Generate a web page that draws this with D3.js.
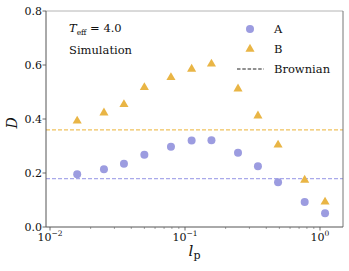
<!DOCTYPE html>
<html lang="en">
<head>
<meta charset="UTF-8">
<script src="https://d3js.org/d3.v7.min.js"></script>
<style>
  body { margin: 0; background: #fff; }
</style>
</head>
<body>
<svg width="349" height="271" font-family="'DejaVu Serif', 'Liberation Serif', serif"></svg>
<script>
// persistence length values (log axis)
const lp = [0.0159, 0.0251, 0.0353, 0.050, 0.0787, 0.112, 0.157, 0.247, 0.347, 0.489, 0.77, 1.09];
const seriesA = [0.195, 0.214, 0.234, 0.268, 0.297, 0.320, 0.321, 0.275, 0.225, 0.166, 0.093, 0.051];
const seriesB = [0.393, 0.423, 0.454, 0.517, 0.554, 0.585, 0.604, 0.512, 0.412, 0.304, 0.174, 0.093];
const brownian = {A: 0.179, B: 0.360};
const yTicks = [0.0, 0.2, 0.4, 0.6, 0.8];
const xTicks = [0.01, 0.1, 1];
const xTickExp = ["\u22122", "\u22121", "0"];

const colA = "#9c9ce0", colB = "#e9b545";
const colAline = "#a9a9ea", colBline = "#f0c25e";

const svg = d3.select("svg");
const mLeft = 46, mRight = 343, mTop = 11, mBottom = 227;

const x = d3.scaleLog().domain([Math.pow(10, -2 - 4 / 135), Math.pow(10, 23 / 135)]).range([mLeft, mRight]);
const y = d3.scaleLinear().domain([0, 0.8]).range([mBottom, mTop]);

// brownian reference lines
svg.append("line")
  .attr("x1", mLeft).attr("x2", mRight)
  .attr("y1", y(brownian.B)).attr("y2", y(brownian.B))
  .attr("stroke", colBline).attr("stroke-width", 1.2).attr("stroke-dasharray", "4,2");
svg.append("line")
  .attr("x1", mLeft).attr("x2", mRight)
  .attr("y1", y(brownian.A)).attr("y2", y(brownian.A))
  .attr("stroke", colAline).attr("stroke-width", 1.2).attr("stroke-dasharray", "4,2");

// minor x ticks
const minor = [];
for (let e = -2; e <= 0; e++) for (let k = 2; k <= 9; k++) {
  const v = k * Math.pow(10, e);
  if (v < x.domain()[1]) minor.push(v);
}
svg.selectAll(".minor").data(minor).enter().append("line")
  .attr("x1", d => x(d)).attr("x2", d => x(d))
  .attr("y1", mBottom).attr("y2", mBottom + 2)
  .attr("stroke", "#666").attr("stroke-width", 0.6);

// major x ticks
svg.selectAll(".xt").data(xTicks).enter().append("line")
  .attr("x1", d => x(d)).attr("x2", d => x(d))
  .attr("y1", mBottom).attr("y2", mBottom + 3.5)
  .attr("stroke", "#444").attr("stroke-width", 0.8);
const xl = svg.selectAll(".xl").data(xTicks).enter().append("text")
  .attr("x", d => x(d)).attr("y", mBottom + 14)
  .attr("text-anchor", "middle").style("font-size", "11px").attr("fill", "#111");
xl.append("tspan").text("10");
xl.append("tspan").attr("dy", -5).style("font-size", "7.5px").text((d, i) => xTickExp[i]);

// y ticks
svg.selectAll(".yt").data(yTicks).enter().append("line")
  .attr("x1", mLeft - 3.5).attr("x2", mLeft)
  .attr("y1", d => y(d)).attr("y2", d => y(d))
  .attr("stroke", "#444").attr("stroke-width", 0.8);
svg.selectAll(".yl").data(yTicks).enter().append("text")
  .attr("x", mLeft - 4).attr("y", d => y(d) + 4)
  .attr("text-anchor", "end").style("font-size", "11px").attr("fill", "#111")
  .text(d => d.toFixed(1));

// spines
svg.append("line").attr("x1", mLeft).attr("x2", mRight).attr("y1", mTop).attr("y2", mTop)
  .attr("stroke", "#b4b4b4").attr("stroke-width", 1);
svg.append("line").attr("x1", mRight).attr("x2", mRight).attr("y1", mTop).attr("y2", mBottom)
  .attr("stroke", "#777").attr("stroke-width", 1);
svg.append("line").attr("x1", mLeft).attr("x2", mLeft).attr("y1", mTop).attr("y2", mBottom)
  .attr("stroke", "#555").attr("stroke-width", 1);
svg.append("line").attr("x1", mLeft).attr("x2", mRight).attr("y1", mBottom).attr("y2", mBottom)
  .attr("stroke", "#555").attr("stroke-width", 1);

// data
const tri = d3.symbol().type(d3.symbolTriangle).size(36);
svg.selectAll(".b").data(seriesB).enter().append("path")
  .attr("d", tri)
  .attr("transform", (d, i) => `translate(${x(lp[i])},${y(d)})`)
  .attr("fill", colB);
svg.selectAll(".a").data(seriesA).enter().append("circle")
  .attr("cx", (d, i) => x(lp[i])).attr("cy", d => y(d))
  .attr("r", 4).attr("fill", colA);

// axis labels
svg.append("text")
  .attr("transform", `translate(17,${(mTop + mBottom) / 2 + 4}) rotate(-90)`)
  .attr("text-anchor", "middle").style("font-size", "14px").style("font-style", "italic")
  .attr("fill", "#111").text("D");
const xlab = svg.append("text").attr("x", (mLeft + mRight) / 2).attr("y", 256)
  .attr("text-anchor", "middle").style("font-size", "15px").attr("fill", "#111");
xlab.append("tspan").style("font-style", "italic").text("l");
xlab.append("tspan").attr("dy", 3).style("font-size", "11px").text("p");

// annotations
const ann = svg.append("text").attr("x", 69).attr("y", 32).style("font-size", "11.5px").attr("fill", "#111");
ann.append("tspan").style("font-style", "italic").text("T");
ann.append("tspan").attr("dy", 2.5).style("font-size", "7.5px").text("eff");
ann.append("tspan").attr("dy", -2.5).text(" = 4.0");
svg.append("text").attr("x", 69).attr("y", 54).style("font-size", "11.5px").attr("fill", "#111").text("Simulation");

// legend
const lg = svg.append("g");
lg.append("circle").attr("cx", 250).attr("cy", 29).attr("r", 4).attr("fill", colA);
lg.append("path").attr("d", tri).attr("transform", "translate(250,49)").attr("fill", colB);
lg.append("line").attr("x1", 237).attr("x2", 264).attr("y1", 69).attr("y2", 69)
  .attr("stroke", "#222").attr("stroke-width", 1).attr("stroke-dasharray", "3.5,1.8");
["A", "B", "Brownian"].forEach((t, i) => {
  lg.append("text").attr("x", 274).attr("y", 33 + i * 20).style("font-size", "11.5px")
    .attr("fill", "#111").text(t);
});
</script>
</body>
</html>
